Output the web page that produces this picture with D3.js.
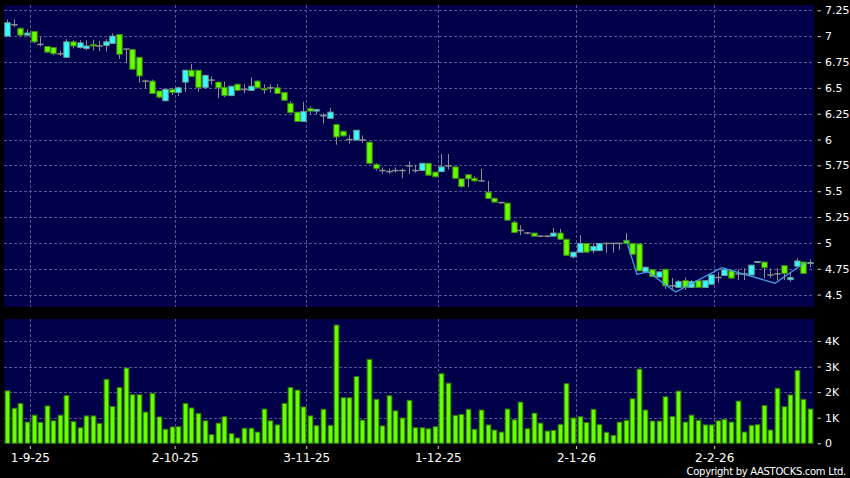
<!DOCTYPE html>
<html>
<head>
<meta charset="utf-8">
<script src="https://d3js.org/d3.v7.min.js"></script>
<style>
  body { margin: 0; background: #000; }
  svg { display: block; }
</style>
</head>
<body>
<div id="chart"></div>
<script>
// daily candles, index 0 = 27-8-25 ... index 122 = 26-2-26
var openPx = [7.00,7.11,7.075,7.01,7.045,6.92,6.90,6.89,6.83,6.795,
  6.945,6.89,6.88,6.92,6.905,6.91,6.93,7.015,6.875,6.87,
  6.795,6.565,6.565,6.47,6.375,6.485,6.455,6.555,6.67,6.67,
  6.505,6.575,6.555,6.505,6.425,6.535,6.485,6.475,6.565,6.495,
  6.50,6.50,6.455,6.35,6.265,6.175,6.30,6.275,6.23,6.205,
  6.145,6.08,6.00,5.995,5.995,5.975,5.76,5.70,5.69,5.70,
  5.70,5.745,5.70,5.70,5.77,5.685,5.69,5.745,5.735,5.62,
  5.66,5.625,5.60,5.49,5.43,5.39,5.385,5.20,5.12,5.095,
  5.095,5.065,5.065,5.065,5.095,5.035,4.865,4.91,4.995,4.925,
  4.925,4.995,4.995,4.995,5.025,4.995,4.99,4.72,4.74,4.67,
  4.745,4.585,4.57,4.635,4.57,4.635,4.57,4.60,4.665,4.685,
  4.73,4.70,4.70,4.69,4.81,4.815,4.69,4.70,4.78,4.645,
  4.775,4.815,4.80];
var closePx = [7.13,7.11,7.01,7.03,6.945,6.92,6.845,6.83,6.83,6.945,
  6.905,6.935,6.905,6.905,6.905,6.945,7.00,6.825,6.875,6.68,
  6.615,6.565,6.445,6.41,6.485,6.455,6.50,6.67,6.61,6.505,
  6.62,6.575,6.50,6.425,6.515,6.475,6.485,6.515,6.50,6.48,
  6.50,6.445,6.38,6.26,6.175,6.27,6.275,6.29,6.23,6.265,
  6.025,6.035,6.00,6.09,5.995,5.77,5.72,5.70,5.69,5.70,
  5.70,5.745,5.70,5.77,5.655,5.64,5.735,5.745,5.625,5.545,
  5.62,5.60,5.60,5.43,5.395,5.39,5.22,5.10,5.12,5.095,
  5.065,5.065,5.065,5.095,5.035,4.88,4.91,4.995,4.91,4.965,
  4.995,4.995,4.995,4.995,4.995,4.89,4.73,4.765,4.675,4.72,
  4.585,4.585,4.625,4.57,4.625,4.57,4.635,4.69,4.665,4.74,
  4.66,4.70,4.70,4.785,4.82,4.76,4.69,4.70,4.705,4.665,
  4.825,4.705,4.81];
var highPx = [7.16,7.16,7.085,7.065,7.045,6.99,6.90,6.89,6.86,6.97,
  6.96,6.96,6.96,6.965,6.955,6.97,7.025,7.015,6.875,6.87,
  6.795,6.58,6.58,6.47,6.49,6.50,6.51,6.67,6.73,6.67,
  6.63,6.61,6.56,6.56,6.52,6.535,6.535,6.60,6.575,6.535,
  6.535,6.535,6.455,6.37,6.265,6.365,6.32,6.29,6.255,6.305,
  6.145,6.08,6.045,6.09,6.04,5.975,5.77,5.73,5.72,5.73,
  5.72,5.79,5.755,5.77,5.77,5.685,5.86,5.86,5.735,5.62,
  5.665,5.645,5.715,5.60,5.44,5.40,5.385,5.215,5.17,5.105,
  5.095,5.075,5.075,5.145,5.135,5.035,4.91,5.075,4.995,4.995,
  4.995,4.995,4.995,4.995,5.095,4.995,4.99,4.765,4.74,4.72,
  4.745,4.66,4.64,4.665,4.64,4.635,4.635,4.69,4.72,4.76,
  4.74,4.745,4.755,4.785,4.825,4.815,4.755,4.755,4.78,4.71,
  4.85,4.815,4.84];
var lowPx = [7.00,7.09,7.00,7.00,6.93,6.90,6.84,6.815,6.81,6.795,
  6.88,6.88,6.865,6.86,6.855,6.85,6.93,6.78,6.74,6.68,
  6.55,6.495,6.44,6.40,6.37,6.43,6.42,6.46,6.61,6.46,
  6.50,6.53,6.40,6.41,6.42,6.47,6.45,6.47,6.50,6.445,
  6.455,6.445,6.375,6.26,6.17,6.175,6.25,6.245,6.155,6.205,
  5.95,6.03,5.96,5.995,5.97,5.76,5.70,5.67,5.67,5.68,
  5.625,5.67,5.68,5.70,5.655,5.64,5.69,5.71,5.625,5.535,
  5.54,5.59,5.595,5.43,5.39,5.38,5.22,5.095,5.075,5.085,
  5.065,5.055,5.055,5.065,5.035,4.875,4.85,4.91,4.91,4.90,
  4.925,4.905,4.905,4.93,4.995,4.89,4.73,4.72,4.675,4.665,
  4.555,4.545,4.57,4.545,4.57,4.57,4.57,4.60,4.615,4.685,
  4.65,4.64,4.64,4.69,4.81,4.66,4.66,4.64,4.64,4.625,
  4.775,4.705,4.765];
// volume in thousands
var volumeK = [2.05,1.37,1.56,0.83,1.10,0.82,1.46,0.88,1.10,1.87,
  0.85,0.61,1.07,1.07,0.78,2.50,1.44,2.18,2.94,1.90,
  1.90,1.22,1.95,1.03,0.55,0.64,0.65,1.56,1.38,1.17,
  0.88,0.34,0.79,1.04,0.38,0.21,0.59,0.59,0.44,1.34,
  0.88,0.72,1.56,2.18,2.08,1.42,1.07,0.69,1.33,0.70,
  4.62,1.78,1.78,2.61,0.91,3.28,1.72,0.68,1.86,1.27,
  0.99,1.68,0.61,0.61,0.57,0.65,2.72,2.35,1.09,1.13,
  1.33,0.55,1.30,0.72,0.52,0.44,1.34,0.92,1.61,0.57,
  1.18,0.79,0.48,0.51,0.74,2.33,0.99,1.04,0.81,1.33,
  0.73,0.43,0.31,0.83,0.90,1.74,2.90,1.30,0.87,0.87,
  1.82,1.05,2.04,0.83,1.10,0.90,0.72,0.72,0.88,0.94,
  0.83,1.65,0.44,0.70,0.73,1.48,0.52,2.15,1.43,1.89,
  2.85,1.72,1.34];

// overlay line (position in trading days, price)
var lineIdx = [94.1, 95.7, 97.4, 101.6, 108.6, 116.7, 121.2];
var linePx = [5.028, 4.696, 4.72, 4.525, 4.76, 4.61, 4.808];

var priceTicks = [4.5, 4.75, 5, 5.25, 5.5, 5.75, 6, 6.25, 6.5, 6.75, 7, 7.25];
var volTicks = [0, 1, 2, 3, 4];
var dateIdx = [3, 25, 45, 65, 86, 107];
var dateLabels = ["1-9-25", "2-10-25", "3-11-25", "1-12-25", "2-1-26", "2-2-26"];

var width = 850, height = 478;
var panelL = 4, panelR = 814;
var mainT = 5, mainB = 307, volT = 319, volB = 444;
var navy = "#00004a", gridCol = "#55558f";
var upFill = "#33ffff", upLine = "#6e9c9c";
var dnFill = "#66ff00", dnLine = "#3d8a12";
var wickCol = "#8e8e8e";

var svg = d3.select("#chart").append("svg")
    .attr("width", width).attr("height", height)
    .style("background", "#000");

var x = d3.scaleLinear().domain([0, closePx.length - 1]).range([7.2, 809.9]);
var y = d3.scaleLinear().domain([4.5, 7.25]).range([294.6, 10.3]);
var yv = d3.scaleLinear().domain([0, 4]).range([443.3, 340.9]);
var bw = 5.4;

// panels
svg.append("rect").attr("x", panelL).attr("y", mainT)
    .attr("width", panelR - panelL).attr("height", mainB - mainT).attr("fill", navy);
svg.append("rect").attr("x", panelL).attr("y", volT)
    .attr("width", panelR - panelL).attr("height", volB - volT).attr("fill", navy);

// grid
var grid = svg.append("g").attr("stroke", gridCol).attr("stroke-dasharray", "3,2")
    .attr("stroke-width", 1);
grid.selectAll(".hp").data(priceTicks).enter().append("line")
    .attr("x1", panelL).attr("x2", panelR)
    .attr("y1", function(d) { return Math.round(y(d)) + 0.5; })
    .attr("y2", function(d) { return Math.round(y(d)) + 0.5; });
grid.selectAll(".hv").data(volTicks.slice(1)).enter().append("line")
    .attr("x1", panelL).attr("x2", panelR)
    .attr("y1", function(d) { return Math.round(yv(d)) + 0.5; })
    .attr("y2", function(d) { return Math.round(yv(d)) + 0.5; });
[[mainT, mainB], [volT, volB]].forEach(function(r) {
    grid.selectAll(null).data(dateIdx).enter().append("line")
        .attr("x1", function(d) { return Math.round(x(d + 0.45)) + 0.5; })
        .attr("x2", function(d) { return Math.round(x(d + 0.45)) + 0.5; })
        .attr("y1", r[0]).attr("y2", r[1]);
});

// candles
var idx = d3.range(closePx.length);
var candles = svg.append("g").selectAll("g").data(idx).enter().append("g");

candles.append("line")
    .attr("x1", function(i) { return Math.round(x(i)) + 0.5; })
    .attr("x2", function(i) { return Math.round(x(i)) + 0.5; })
    .attr("y1", function(i) { return y(highPx[i]); })
    .attr("y2", function(i) { return y(lowPx[i]); })
    .attr("stroke", wickCol).attr("stroke-width", 1);

candles.filter(function(i) { return openPx[i] !== closePx[i]; })
    .append("rect")
    .attr("x", function(i) { return Math.round(x(i)) + 0.5 - bw / 2; })
    .attr("y", function(i) { return y(Math.max(openPx[i], closePx[i])); })
    .attr("width", bw)
    .attr("height", function(i) { return Math.max(1, Math.abs(y(openPx[i]) - y(closePx[i]))); })
    .attr("fill", function(i) { return closePx[i] > openPx[i] ? upFill : dnFill; })
    .attr("stroke", function(i) { return closePx[i] > openPx[i] ? upLine : dnLine; })
    .attr("stroke-width", 1);

candles.filter(function(i) { return openPx[i] === closePx[i]; })
    .append("line")
    .attr("x1", function(i) { return Math.round(x(i)) + 0.5 - bw / 2 - 0.5; })
    .attr("x2", function(i) { return Math.round(x(i)) + 0.5 + bw / 2 + 0.5; })
    .attr("y1", function(i) { return y(closePx[i]); })
    .attr("y2", function(i) { return y(closePx[i]); })
    .attr("stroke", wickCol).attr("stroke-width", 1.5);

// overlay line
svg.append("path")
    .datum(d3.zip(lineIdx, linePx))
    .attr("fill", "none").attr("stroke", "#3f9fe6").attr("stroke-width", 1.3)
    .attr("d", d3.line().x(function(d) { return x(d[0]); }).y(function(d) { return y(d[1]); }));

// volume bars
svg.append("g").selectAll("rect").data(volumeK).enter().append("rect")
    .attr("x", function(d, i) { return Math.round(x(i)) + 0.5 - 2.4; })
    .attr("y", function(d) { return yv(d); })
    .attr("width", 4.8)
    .attr("height", function(d) { return yv(0) - yv(d); })
    .attr("fill", dnFill).attr("stroke", "#2f6e08").attr("stroke-width", 1);

// axes
function styleAxis(g) {
    g.select(".domain").remove();
    g.selectAll("line").attr("stroke", "#cfcfcf");
    g.selectAll("text").attr("fill", "#ffffff").attr("font-family", "DejaVu Sans");
}

svg.append("g").attr("transform", "translate(817.5,0)")
    .call(d3.axisRight(y).tickValues(priceTicks).tickSize(3.5).tickPadding(4)
        .tickFormat(function(d) { return String(d); }))
    .call(styleAxis)
    .selectAll("text").attr("font-size", 11);

svg.append("g").attr("transform", "translate(817.5,0)")
    .call(d3.axisRight(yv).tickValues(volTicks).tickSize(3.5).tickPadding(4)
        .tickFormat(function(d) { return d === 0 ? "0" : d + "K"; }))
    .call(styleAxis)
    .selectAll("text").attr("font-size", 11);

svg.append("g").attr("transform", "translate(0,446)")
    .call(d3.axisBottom(x).tickValues(dateIdx.map(function(d) { return d + 0.45; }))
        .tickSize(3).tickPadding(4)
        .tickFormat(function(d, i) { return dateLabels[i]; }))
    .call(styleAxis)
    .selectAll("text").attr("font-size", 12);

svg.append("text")
    .attr("x", 846).attr("y", 474.5)
    .attr("text-anchor", "end")
    .attr("font-family", "DejaVu Sans").attr("font-size", 10)
    .attr("letter-spacing", "-0.3px")
    .attr("fill", "#ffffff")
    .text("Copyright by AASTOCKS.com Ltd.");
</script>
</body>
</html>
